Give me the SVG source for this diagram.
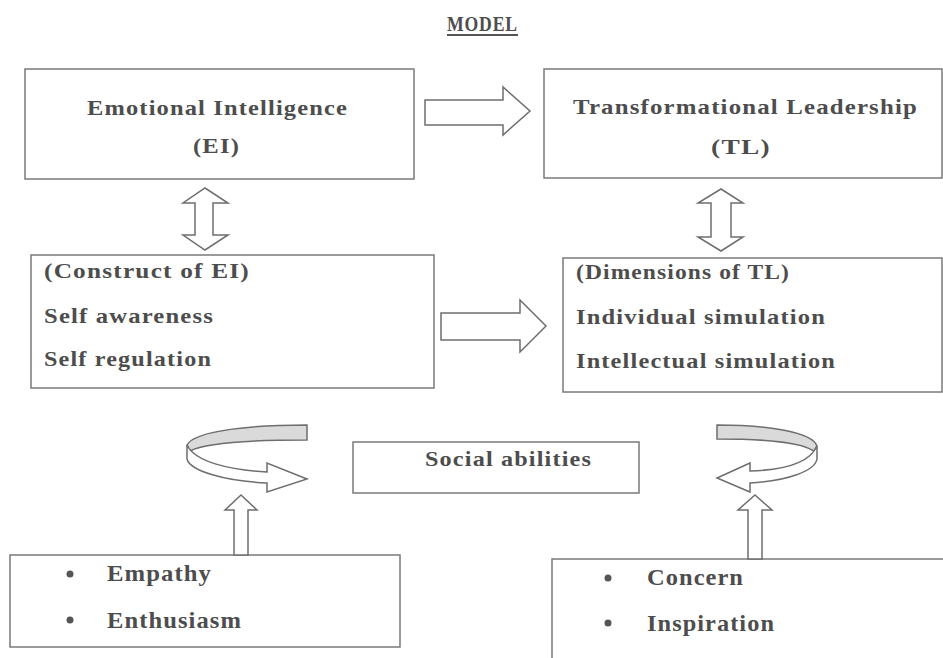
<svg xmlns="http://www.w3.org/2000/svg" width="943" height="658" viewBox="0 0 943 658">
<style>
.box{fill:#fff;stroke:#7a7a7a;stroke-width:1.5}
.arr{fill:#fff;stroke:#6e6e6e;stroke-width:1.5;stroke-linejoin:miter}
.band{fill:#dadada;stroke:#6e6e6e;stroke-width:1.5}
text{font-family:"Liberation Serif","Times New Roman",serif;font-weight:bold;fill:#4d4d4d;font-size:21px;letter-spacing:1px}
.big{font-size:23px}
.dot{fill:#555}
</style>
<rect width="943" height="658" fill="#fff"/>
<g id="title">
<text x="447" y="31" textLength="71" lengthAdjust="spacingAndGlyphs" style="font-size:21px">MODEL</text>
<line x1="447" y1="35" x2="518" y2="35" stroke="#555" stroke-width="1.8"/>
</g>
<g id="ei">
<rect class="box" x="25" y="69" width="389" height="110"/>
<text x="87" y="115" textLength="261" lengthAdjust="spacingAndGlyphs">Emotional Intelligence</text>
<text x="193" y="153" textLength="47" lengthAdjust="spacingAndGlyphs">(EI)</text>
</g>
<g id="tl">
<rect class="box" x="544" y="69" width="398" height="109"/>
<text x="573" y="114" textLength="345" lengthAdjust="spacingAndGlyphs">Transformational Leadership</text>
<text x="711" y="154" textLength="60" lengthAdjust="spacingAndGlyphs">(TL)</text>
</g>
<g id="construct">
<rect class="box" x="31" y="255" width="403" height="133"/>
<text x="44" y="278" textLength="206" lengthAdjust="spacingAndGlyphs">(Construct of EI)</text>
<text x="44" y="323" textLength="170" lengthAdjust="spacingAndGlyphs">Self awareness</text>
<text x="44" y="366" textLength="168" lengthAdjust="spacingAndGlyphs">Self regulation</text>
</g>
<g id="dimensions">
<rect class="box" x="563" y="258" width="379" height="134"/>
<text x="576" y="279" textLength="214" lengthAdjust="spacingAndGlyphs">(Dimensions of TL)</text>
<text x="576" y="324" textLength="250" lengthAdjust="spacingAndGlyphs">Individual simulation</text>
<text x="576" y="368" textLength="260" lengthAdjust="spacingAndGlyphs">Intellectual simulation</text>
</g>
<g id="social">
<rect class="box" x="353" y="442" width="286" height="51"/>
<text x="425" y="466" textLength="167" lengthAdjust="spacingAndGlyphs">Social abilities</text>
</g>
<g id="empathy">
<rect class="box" x="10" y="555" width="390" height="92"/>
<circle class="dot" cx="70" cy="574" r="3.5"/>
<circle class="dot" cx="70" cy="620" r="3.5"/>
<text class="big" x="107" y="581" textLength="105" lengthAdjust="spacingAndGlyphs">Empathy</text>
<text class="big" x="107" y="628" textLength="135" lengthAdjust="spacingAndGlyphs">Enthusiasm</text>
</g>
<g id="concern">
<rect class="box" x="552" y="559" width="400" height="120"/>
<circle class="dot" cx="608" cy="578" r="3.5"/>
<circle class="dot" cx="608" cy="623" r="3.5"/>
<text class="big" x="647" y="585" textLength="97" lengthAdjust="spacingAndGlyphs">Concern</text>
<text class="big" x="647" y="631" textLength="128" lengthAdjust="spacingAndGlyphs">Inspiration</text>
</g>
<g id="connectors">
<polygon class="arr" points="425,100 503,100 503,87 530,111 503,135 503,125 425,125"/>
<polygon class="arr" points="441,313 520,313 520,300 546,326 520,352 520,340 441,340"/>
<polygon class="arr" points="205,188 228,203 213,203 213,235 228,235 205,250 183,235 195,235 195,203 183,203"/>
<polygon class="arr" points="721,189 743,203 731,203 731,237 743,237 721,251 698,237 711,237 711,203 698,203"/>
<polygon class="arr" points="241,495 257,510 248,510 248,555 234,555 234,510 225,510"/>
<polygon class="arr" points="755,495 772,510 762,510 762,559 748,559 748,510 738,510"/>
<path class="band" d="M307,425 C255,425 195,430 187,445 L190,451 C205,443 255,440 307,440 Z"/>
<path class="arr" d="M187,445 C195,462 230,470 267,472 L267,463 L307,479 L267,492 L267,483 C225,481 190,471 187,459 Z"/>
<path class="band" d="M717,425 C768,425 812,432 817,446 L814,451 C800,442 768,439 717,439 Z"/>
<path class="arr" d="M817,446 C810,462 785,470 750,471 L750,463 L717,478 L750,492 L750,483 C787,481 815,471 817,459 Z"/>
</g>
</svg>
